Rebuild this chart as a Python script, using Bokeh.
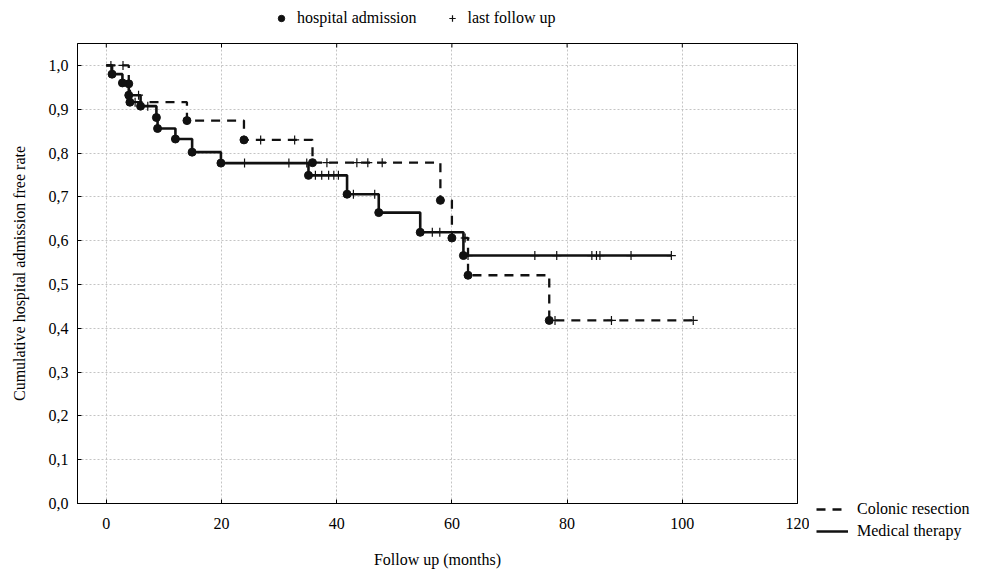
from bokeh.plotting import figure
from bokeh.models import Range1d, FixedTicker, Legend, LegendItem
from bokeh.layouts import row, column
from bokeh.embed import file_html
from bokeh.resources import INLINE

# ---------------- data ----------------
# Medical therapy (solid line)
med_event_t = [1.0, 2.8, 3.9, 5.95, 8.7, 8.9, 12.0, 14.9, 19.9, 35.1, 41.8, 47.3, 54.5, 62.0]
med_event_s = [0.980, 0.960, 0.932, 0.907, 0.881, 0.856, 0.832, 0.802, 0.777, 0.749, 0.706, 0.664, 0.619, 0.566]
med_cens_t = [5.6, 7.2, 24.0, 31.7, 34.8, 36.3, 37.4, 38.6, 39.5, 40.3, 42.9, 46.6, 56.6, 57.9,
              62.8, 74.4, 78.2, 84.3, 85.1, 85.7, 91.1, 98.1]
med_cens_s = [0.932, 0.907, 0.777, 0.777, 0.777, 0.749, 0.749, 0.749, 0.749, 0.749, 0.706, 0.706, 0.619, 0.619,
              0.566, 0.566, 0.566, 0.566, 0.566, 0.566, 0.566, 0.566]
med_end = 98.1

# Colonic resection (dashed line)
col_event_t = [3.9, 4.1, 14.0, 23.9, 35.8, 58.0, 60.0, 62.8, 76.9]
col_event_s = [0.958, 0.916, 0.874, 0.830, 0.778, 0.692, 0.606, 0.521, 0.418]
col_cens_t = [0.8, 2.9, 5.0, 26.8, 32.7, 38.3, 43.5, 45.4, 47.9, 62.3, 77.9, 87.7, 101.9]
col_cens_s = [1.0, 1.0, 0.916, 0.830, 0.830, 0.778, 0.778, 0.778, 0.778, 0.606, 0.418, 0.418, 0.418]
col_end = 101.9

x_ticks = [0, 20, 40, 60, 80, 100, 120]
y_ticks = [0.0, 0.1, 0.2, 0.3, 0.4, 0.5, 0.6, 0.7, 0.8, 0.9, 1.0]
y_tick_labels = ["0,0", "0,1", "0,2", "0,3", "0,4", "0,5", "0,6", "0,7", "0,8", "0,9", "1,0"]

# ---------------- styles ----------------
SERIF = "Liberation Serif"
SANS = "Liberation Sans Narrow"
INK = "#111111"
X0, X1, Y0, Y1 = -5, 120, 0, 1.05
FW, FH = 720, 460
DASHED = dict(line_color=INK, line_width=2.3, line_dash="9 7")
SOLID = dict(line_color=INK, line_width=2.6)
CROSS = dict(marker="cross", size=9, line_color=INK, line_width=1.2)
DOT = dict(marker="circle", size=8, fill_color=INK, line_color=INK)

# ---------------- main chart ----------------
p = figure(frame_width=FW, frame_height=FH,
           min_border_left=77, min_border_right=12, min_border_top=2, min_border_bottom=72,
           x_range=Range1d(X0, X1), y_range=Range1d(Y0, Y1),
           output_backend="svg", toolbar_location=None, tools="")
p.background_fill_color = "white"
p.border_fill_color = "white"
p.outline_line_color = "black"
p.outline_line_width = 1

p.xgrid.ticker = FixedTicker(ticks=x_ticks)
p.ygrid.ticker = FixedTicker(ticks=y_ticks)
for g in (p.xgrid, p.ygrid):
    g.grid_line_color = "#c4c4c4"
    g.grid_line_dash = "2 2"
    g.grid_line_width = 1

xa = p.xaxis[0]
xa.ticker = FixedTicker(ticks=x_ticks)
xa.axis_label = "Follow up (months)"
xa.axis_label_text_font = SERIF
xa.axis_label_text_font_style = "normal"
xa.axis_label_text_font_size = "16px"
xa.axis_label_text_color = "black"
xa.axis_label_standoff = 19
xa.major_label_text_font = SANS
xa.major_label_text_font_size = "16px"
xa.major_label_text_color = "black"
xa.major_label_standoff = 14
xa.major_tick_in = 4
xa.major_tick_out = 0
xa.minor_tick_line_color = None
xa.axis_line_color = "black"

ya = p.yaxis[0]
ya.ticker = FixedTicker(ticks=y_ticks)
ya.major_label_overrides = {t: lab for t, lab in zip(y_ticks, y_tick_labels)}
ya.axis_label = "Cumulative hospital admission free rate"
ya.axis_label_text_font = SERIF
ya.axis_label_text_font_style = "normal"
ya.axis_label_text_font_size = "16px"
ya.axis_label_text_color = "black"
ya.axis_label_standoff = 18
ya.major_label_text_font = SANS
ya.major_label_text_font_size = "16px"
ya.major_label_text_color = "black"
ya.major_label_standoff = 9
ya.major_tick_in = 4
ya.major_tick_out = 0
ya.minor_tick_line_color = None
ya.axis_line_color = "black"

# inner tick marks along the top edge of the frame
tick_len = 4 * (Y1 - Y0) / FH
p.segment(x0=x_ticks, y0=[Y1] * len(x_ticks), x1=x_ticks, y1=[Y1 - tick_len] * len(x_ticks),
          line_color="black", line_width=1)

med_x = [0.0] + med_event_t + [med_end]
med_y = [1.0] + med_event_s + [med_event_s[-1]]
col_x = [0.0] + col_event_t + [col_end]
col_y = [1.0] + col_event_s + [col_event_s[-1]]

p.step(col_x, col_y, mode="after", **DASHED)
p.step(med_x, med_y, mode="after", **SOLID)
p.scatter(col_cens_t, col_cens_s, **CROSS)
p.scatter(med_cens_t, med_cens_s, **CROSS)
p.scatter(col_event_t, col_event_s, **DOT)
p.scatter(med_event_t, med_event_s, **DOT)


# ---------------- legend panels ----------------
def blank(w, h):
    f = figure(width=w, height=h, min_border=0, x_range=Range1d(0, 1), y_range=Range1d(0, 1),
               x_axis_location=None, y_axis_location=None,
               output_backend="svg", toolbar_location=None, tools="")
    f.grid.visible = False
    f.outline_line_color = None
    f.background_fill_color = "white"
    f.border_fill_color = "white"
    return f


common = dict(glyph_height=20, label_height=20, padding=0, margin=0,
              border_line_color=None, background_fill_alpha=0,
              label_text_font=SERIF, label_text_font_size="16px", label_text_color="black")

# legend sample renderers hold one off-screen point so their sample glyph is drawn
OFF = [-10.0, -9.0]

# top legend strip
top = blank(809, 41)
t_dot = top.scatter(x=OFF[:1], y=OFF[:1], **DOT)
t_cross = top.scatter(x=OFF[:1], y=OFF[:1], **CROSS)
top.add_layout(Legend(items=[LegendItem(label="hospital admission", renderers=[t_dot]),
                             LegendItem(label="last follow up", renderers=[t_cross])],
                      orientation="horizontal", location=(196, 13),
                      glyph_width=16, label_standoff=8, spacing=27, **common))

# right legend panel
side = blank(190, 575)
s_col = side.line(x=OFF, y=[-10.0, -10.0], **DASHED)
s_med = side.line(x=OFF, y=[-10.0, -10.0], **SOLID)
side.add_layout(Legend(items=[LegendItem(label="Colonic resection", renderers=[s_col]),
                              LegendItem(label="Medical therapy", renderers=[s_med])],
                       orientation="vertical", location=(7, 34),
                       glyph_width=32, label_standoff=9, spacing=2, **common))

layout = row(column(top, p, spacing=0), side, spacing=0)
open("out.html", "w").write(file_html(layout, INLINE))
